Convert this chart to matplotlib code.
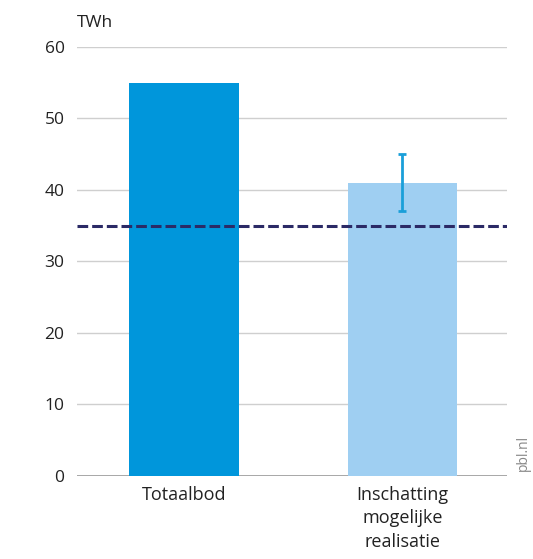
import matplotlib
matplotlib.use("Agg")
import matplotlib.pyplot as plt

categories = ["Totaalbod", "Inschatting\nmogelijke\nrealisatie"]
values = [55, 41]
err_low = [None, 37]
err_high = [None, 45]
reference_level = 35
yticks = [0, 10, 20, 30, 40, 50, 60]

plt.rcParams['font.family'] = ['Open Sans', 'DejaVu Sans']

fig = plt.figure(figsize=(5.33, 5.59), dpi=100)
ax = fig.add_axes([0.1445, 0.1485, 0.807, 0.7675])

colors = ["#0096db", "#9fcff2"]
x = list(range(len(categories)))
ax.bar(x, values, width=0.5, color=colors, zorder=2)

# error bar
v = values[1]
ax.errorbar([1], [v], yerr=[[v - err_low[1]], [err_high[1] - v]], fmt='none',
            ecolor="#1a9fd9", elinewidth=2, capsize=3, capthick=2, zorder=3)

ax.axhline(reference_level, color="#2b2a66", linestyle=(0, (3.5, 1.3)), linewidth=2.2, zorder=4)

ax.set_ylim(0, 60)
ax.set_xlim(-0.49, 1.48)
ax.set_yticks(yticks)
ax.set_xticks(x)
ax.set_xticklabels(categories, fontsize=13, color="#222222", linespacing=1.4)
ax.tick_params(axis='y', labelsize=12.5, colors="#222222", length=0, pad=9)
ax.tick_params(axis='x', length=0, pad=7)
ax.grid(axis='y', color="#cfcfcf", linewidth=1, zorder=0)
ax.set_axisbelow(True)
for s in ax.spines.values():
    s.set_visible(False)
ax.axhline(0, color="#9a9a9a", linewidth=1.2, zorder=1)

fig.text(0.1445, 0.958, "TWh", fontsize=12.5, color="#222222", ha='left', va='center')
fig.text(0.982, 0.19, "pbl.nl", fontsize=10, color="#888888", rotation=90, ha='center', va='center')

fig.savefig("out.png", dpi=100)
